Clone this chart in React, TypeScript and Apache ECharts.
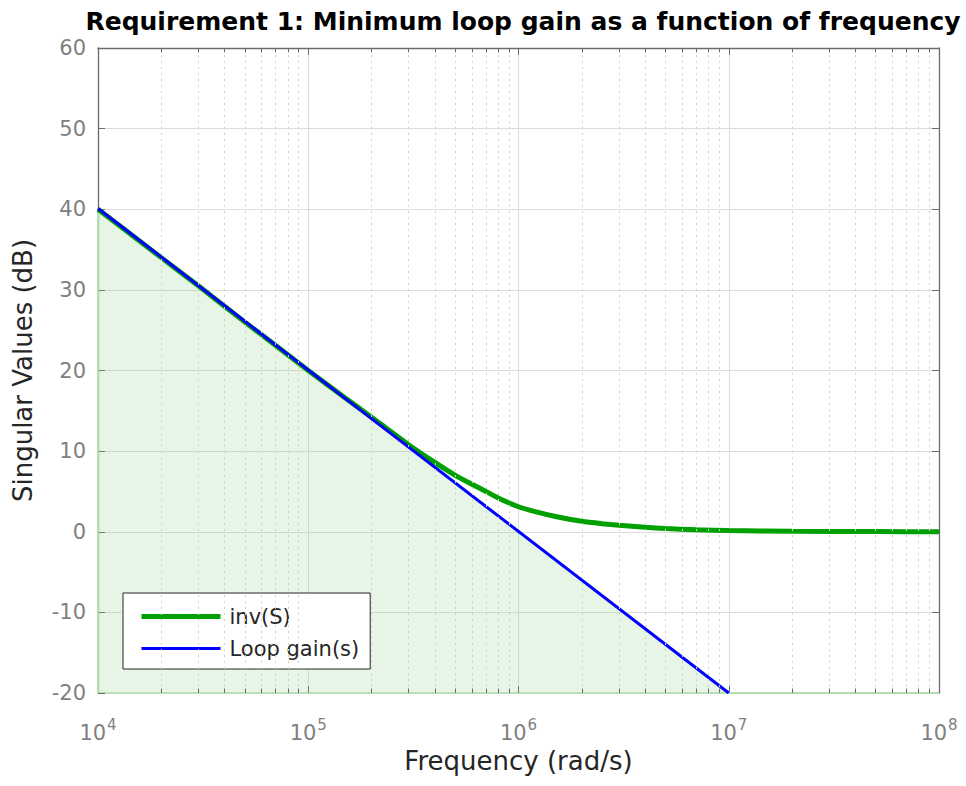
import React, { useEffect, useRef } from "react";
import * as echarts from "echarts";

const titleText = "Requirement 1: Minimum loop gain as a function of frequency";
const xName = "Frequency (rad/s)";
const yName = "Singular Values (dB)";

// inv(S) curve
const invSFreq = [1e4, 2e4, 3e4, 5e4, 7e4, 1e5, 1.5e5, 2e5, 3e5, 4e5, 5e5, 6e5, 7e5, 8e5, 1e6, 1.2e6, 1.5e6, 2e6, 2.5e6, 3e6, 4e6, 5e6, 7e6, 1e7, 2e7, 5e7, 1e8];
const invSVals = [40.0, 34.0, 30.5, 26.0, 23.1, 20.0, 16.6, 14.2, 10.8, 8.6, 7.0, 5.9, 5.0, 4.2, 3.1, 2.5, 1.9, 1.3, 1.0, 0.8, 0.55, 0.4, 0.25, 0.15, 0.06, 0.02, 0.0];

// Loop gain line
const loopFreq = [1e4, 1e7];
const loopVals = [40.1, -20];

// Shaded region boundary (left edge, loop gain edge, bottom edge)
const fillFreq = [1e4, 1e4, 1e7, 1e8];
const fillVals = [-20, 40.1, -20, -20];

// Axis settings
const xMin = 1e4;
const xMax = 1e8;
const yMin = -20;
const yMax = 60;
const yStep = 10;
const decades = [1e4, 1e5, 1e6, 1e7];
const minorMults = [2, 3, 4, 5, 6, 7, 8, 9];

const FONT = "DejaVu Sans";

export default function App() {
  const ref = useRef<HTMLDivElement>(null);
  useEffect(() => {
    if (!ref.current) return;
    const chart = echarts.init(ref.current, null, { renderer: "svg" });
    const minorVals: number[] = [];
    decades.forEach((d) => minorMults.forEach((m) => minorVals.push(m * d)));
    const minorGrid = minorVals.map((v) => ({ xAxis: v }));
    const tickLen = 0.55;
    const minorTicks: any[] = [];
    minorVals.forEach((v) => {
      minorTicks.push([{ coord: [v, yMin] }, { coord: [v, yMin + tickLen] }]);
      minorTicks.push([{ coord: [v, yMax] }, { coord: [v, yMax - tickLen] }]);
    });
    const axisColor = "#6b6b6b";
    const edgeGreen = "#b2deb2";
    const labelColor = "#808080";
    const xLabel = {
      color: labelColor,
      margin: 28,
      formatter: (v: number) => `{b|10}{e|${Math.round(Math.log10(v))}}`,
      rich: {
        b: { fontFamily: FONT, fontSize: 21, color: labelColor, lineHeight: 22, verticalAlign: "bottom" },
        e: { fontFamily: FONT, fontSize: 15, color: labelColor, lineHeight: 15, verticalAlign: "bottom", padding: [0, 0, 11, 1] },
      },
    };
    chart.setOption({
      animation: false,
      title: {
        text: titleText,
        left: 518,
        textAlign: "center",
        top: 4,
        textStyle: { fontFamily: FONT, fontSize: 25, fontWeight: "bold", color: "#000" },
      },
      grid: { left: 98, right: 27, top: 48, bottom: 93 },
      legend: {
        orient: "vertical",
        left: 123,
        top: 593,
        padding: [13, 11, 10, 16],
        itemWidth: 79,
        itemHeight: 14,
        itemGap: 11,
        backgroundColor: "#fff",
        borderColor: "#262626",
        borderWidth: 1,
        borderRadius: 0,
        data: [
          { name: "inv(S)", itemStyle: { opacity: 0 }, lineStyle: { width: 5, color: "#00a000" } },
          { name: "Loop gain(s)", itemStyle: { opacity: 0 }, lineStyle: { width: 3, color: "#0000ff" } },
        ],
        textStyle: { fontFamily: FONT, fontSize: 21, color: "#262626", padding: [0, 0, 0, 4] },
      },
      xAxis: [
        {
          type: "log",
          logBase: 10,
          min: xMin,
          max: xMax,
          name: xName,
          nameLocation: "middle",
          nameGap: 55,
          nameTextStyle: { fontFamily: FONT, fontSize: 26, color: "#262626" },
          axisLine: { show: true, onZero: false, lineStyle: { color: edgeGreen, width: 1.5 } },
          axisTick: { show: true, inside: true, length: 7, lineStyle: { color: axisColor } },
          axisLabel: xLabel,
          splitLine: { show: true, lineStyle: { color: "#dcdcdc", width: 1 } },
          minorTick: { show: false },
        },
        {
          type: "log",
          logBase: 10,
          min: xMin,
          max: xMax,
          position: "top",
          axisLine: { show: true, onZero: false, lineStyle: { color: axisColor, width: 1.3 } },
          axisTick: { show: true, inside: true, length: 7, lineStyle: { color: axisColor } },
          axisLabel: { show: false },
          splitLine: { show: false },
        },
      ],
      yAxis: [
        {
          type: "value",
          min: yMin,
          max: yMax,
          interval: yStep,
          name: yName,
          nameLocation: "middle",
          nameGap: 62,
          nameRotate: 90,
          nameTextStyle: { fontFamily: FONT, fontSize: 26, color: "#262626" },
          axisLine: { show: true, onZero: false, lineStyle: { color: axisColor, width: 1.3 } },
          axisTick: { show: true, inside: true, length: 7, lineStyle: { color: axisColor } },
          axisLabel: { fontFamily: FONT, fontSize: 21, color: labelColor, margin: 12 },
          splitLine: { show: true, lineStyle: { color: "#dcdcdc", width: 1 } },
        },
        {
          type: "value",
          min: yMin,
          max: yMax,
          interval: yStep,
          position: "right",
          axisLine: { show: true, onZero: false, lineStyle: { color: axisColor, width: 1.3 } },
          axisTick: { show: true, inside: true, length: 7, lineStyle: { color: axisColor } },
          axisLabel: { show: false },
          splitLine: { show: false },
        },
      ],
      series: [
        {
          name: "_fill",
          type: "line",
          data: fillFreq.map((f, i) => [f, fillVals[i]]),
          symbol: "none",
          silent: true,
          lineStyle: { color: edgeGreen, width: 2 },
          areaStyle: { color: "rgba(130,205,130,0.28)", origin: "start" },
          z: 1,
          markLine: {
            silent: true,
            symbol: "none",
            label: { show: false },
            lineStyle: { color: "#cfcfcf", type: [2, 4], width: 1 },
            data: minorGrid,
          },
        },
        {
          name: "_minorTicks",
          type: "line",
          data: [],
          symbol: "none",
          silent: true,
          markLine: {
            silent: true,
            symbol: "none",
            label: { show: false },
            lineStyle: { color: axisColor, type: "solid", width: 1 },
            data: minorTicks,
          },
        },
        {
          name: "inv(S)",
          type: "line",
          data: invSFreq.map((f, i) => [f, invSVals[i]]),
          symbol: "none",
          smooth: 0.2,
          lineStyle: { color: "#00a000", width: 5 },
          itemStyle: { color: "#00a000" },
          z: 3,
        },
        {
          name: "Loop gain(s)",
          type: "line",
          data: loopFreq.map((f, i) => [f, loopVals[i]]),
          symbol: "none",
          lineStyle: { color: "#0000ff", width: 3 },
          itemStyle: { color: "#0000ff" },
          z: 4,
        },
      ],
    });
    return () => chart.dispose();
  }, []);
  return <div ref={ref} style={{ width: 966, height: 786, position: "absolute", left: 0, top: 0 }} />;
}
